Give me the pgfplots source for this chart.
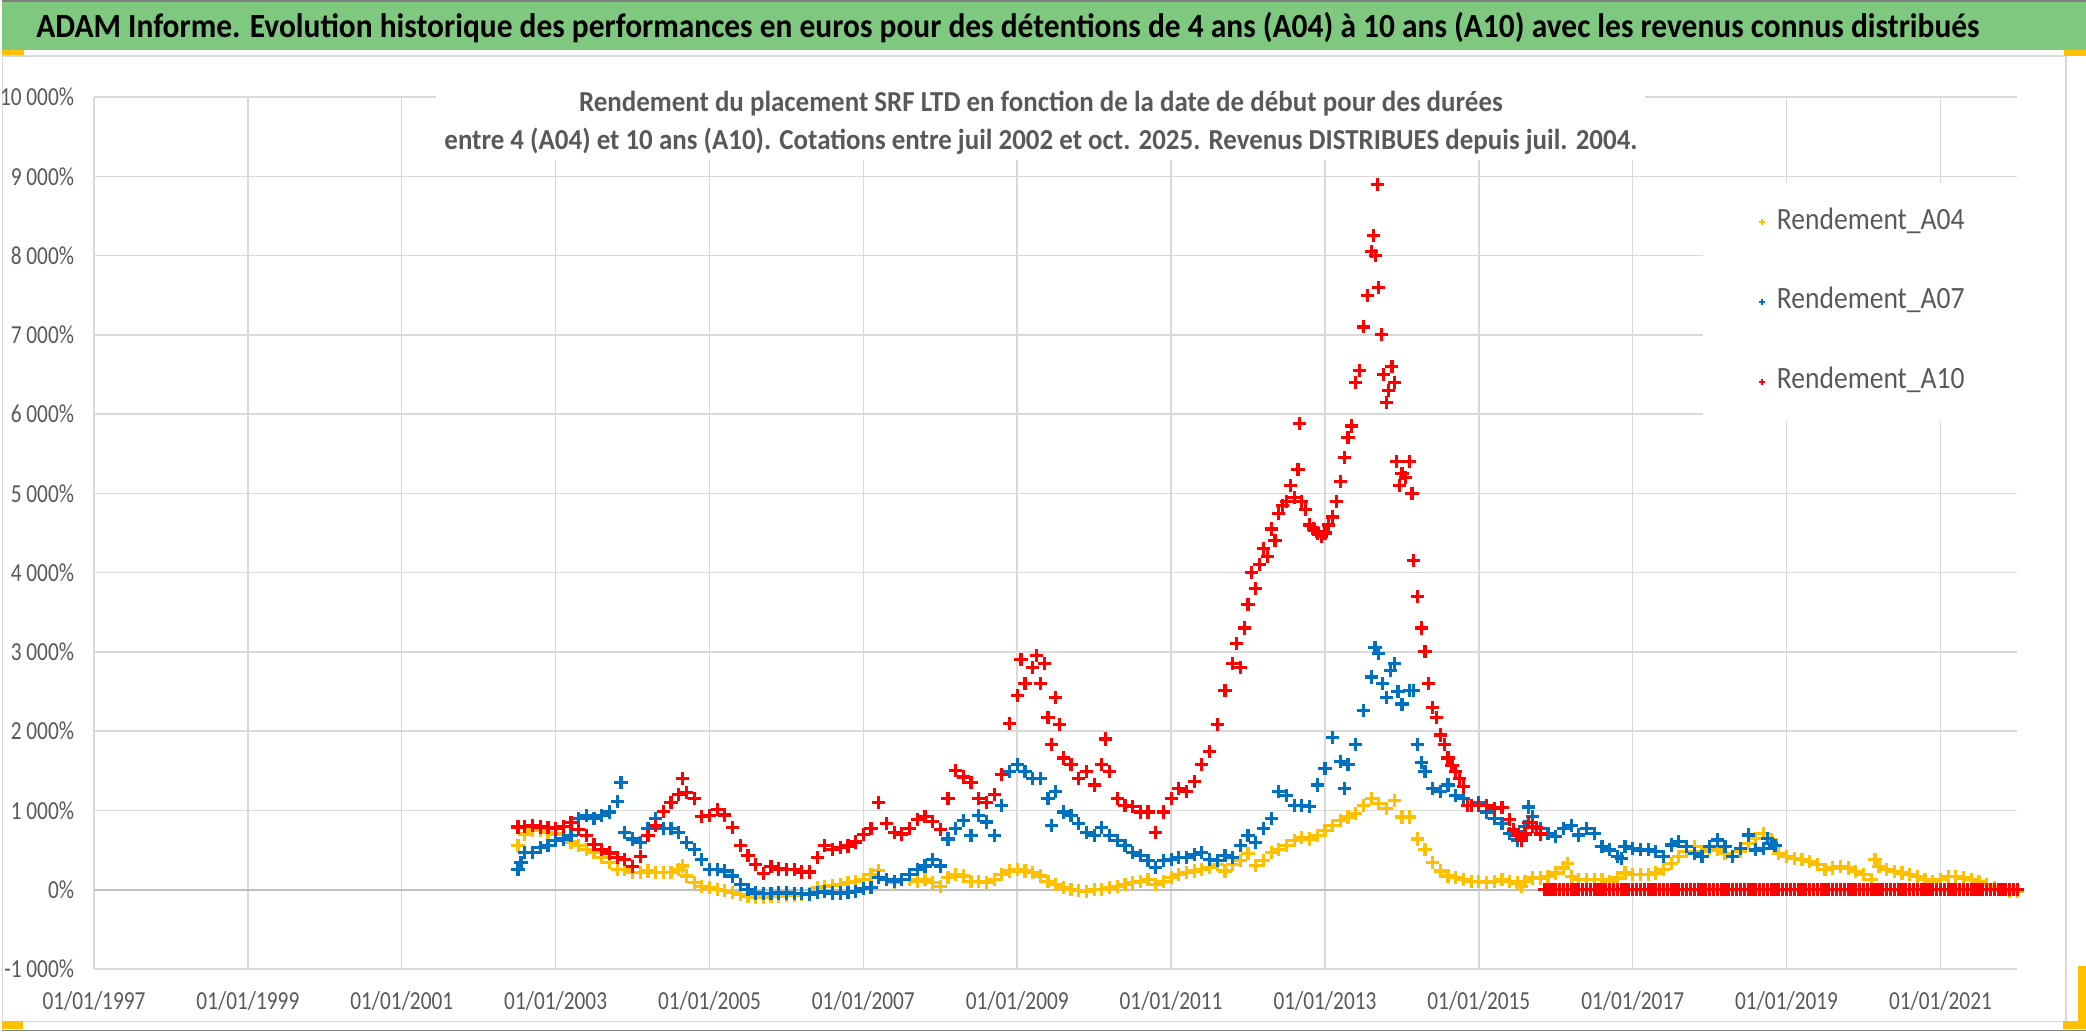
\documentclass[border=0pt]{standalone}
\usepackage{pgfplots}
\pgfplotsset{compat=1.18}
\usepackage{fontspec}
\setmainfont{Carlito}[FakeStretch=0.82]
\newfontfamily\titlefont{Carlito}[FakeStretch=0.925]
\newfontfamily\subfont{Carlito}[FakeStretch=0.93]
\newfontfamily\legfont{Carlito}[FakeStretch=0.89]
\definecolor{titlegreen}{RGB}{127,200,127}
\definecolor{textgray}{RGB}{89,89,89}
\definecolor{gridgray}{RGB}{217,217,217}
\definecolor{zerogray}{RGB}{191,191,191}
\definecolor{cA04}{RGB}{255,192,0}
\definecolor{cA07}{RGB}{0,112,192}
\definecolor{cA10}{RGB}{255,0,0}
\definecolor{handle}{RGB}{255,192,0}
\begin{document}
\begin{tikzpicture}
\begin{scope}[x=1pt,y=1pt]
\useasboundingbox (0,0) rectangle (1043,516);
\fill[white] (0,0) rectangle (1043,516);
% chart area frame
\draw[gridgray,line width=0.6pt] (0.5,5) rectangle (1033,488);
\draw[gray,line width=0.8pt] (0,515.6) -- (1043,515.6);
\draw[gray,line width=0.8pt] (0,0.4) -- (1043,0.4);
% title bar
\fill[titlegreen] (0,491) rectangle (1043,515.2);
\node[anchor=base,font=\titlefont\bfseries\fontsize{17}{20}\selectfont,text=black,inner sep=0pt] at (503.5,497)
  {ADAM Informe. Evolution historique des performances en euros pour des détentions de 4 ans (A04) à 10 ans (A10) avec les revenus connus distribués};
% selection handles
\fill[handle] (0,488.5) rectangle (11,491);
\fill[handle] (0,1) rectangle (10.5,5);
\fill[handle] (1032,488) rectangle (1043,491);
\fill[handle] (1039,1) rectangle (1043,32.5);
\fill[handle] (1031.5,1) rectangle (1043,5);
\end{scope}
\begin{axis}[
  at={(46.15pt,31.2pt)}, anchor=south west,
  width=962.5pt, height=436.2pt, scale only axis,
  xmin=1997, xmax=2022, ymin=-1000, ymax=10000,
  scaled ticks=false,
  axis line style={draw=none}, tick style={draw=none},
  clip=false,
  xtick={1997,1999,2001,2003,2005,2007,2009,2011,2013,2015,2017,2019,2021},
  xticklabels={01/01/1997,01/01/1999,01/01/2001,01/01/2003,01/01/2005,01/01/2007,01/01/2009,01/01/2011,01/01/2013,01/01/2015,01/01/2017,01/01/2019,01/01/2021},
  ytick={-1000,0,1000,2000,3000,4000,5000,6000,7000,8000,9000,10000},
  yticklabels={-1 000\%,0\%,1 000\%,2 000\%,3 000\%,4 000\%,5 000\%,6 000\%,7 000\%,8 000\%,9 000\%,10 000\%},
  ticklabel style={font=\fontsize{13}{15}\selectfont,text=textgray,inner sep=0pt},
  yticklabel style={anchor=east,xshift=-9.8pt},
  xticklabel style={anchor=north,yshift=-11pt},
  grid=major,
  grid style={color=gridgray,line width=0.75pt},
  extra y ticks={0}, extra y tick labels={},
  extra y tick style={grid style={color=zerogray,line width=1pt}},
  legend style={at={(0.8362,0.9018)}, anchor=north west, draw=none, fill=white,
    inner xsep=28pt, inner ysep=12pt, row sep=25pt,
    font=\legfont\fontsize{15.5}{18}\selectfont, text=textgray,
    nodes={inner sep=0pt, text height=11pt, text depth=4pt},
    /tikz/every odd column/.append style={column sep=5.9pt}},
  legend cell align=left,
  legend image code/.code={\draw[#1,mark size=1.6pt,line width=0.8pt] plot coordinates {(0pt,0pt)};},
  every axis plot/.append style={only marks, mark=+, mark size=3.3pt, line width=1.6pt},
]
\addplot[color=cA04] coordinates {
(2002.51,560) (2002.6,700) (2002.7,750) (2002.8,750) (2002.9,720) (2003.0,700) (2003.1,640) (2003.2,600) (2003.3,553) (2003.4,510)
(2003.5,468) (2003.6,404) (2003.7,340) (2003.8,255) (2003.9,255) (2004.0,213) (2004.1,213) (2004.2,234) (2004.3,213) (2004.4,213)
(2004.5,213) (2004.6,255) (2004.65,298) (2004.7,170) (2004.8,85) (2004.9,43) (2005.0,21) (2005.1,0) (2005.2,-8) (2005.3,-34)
(2005.4,-64) (2005.5,-85) (2005.6,-94) (2005.7,-94) (2005.8,-85) (2005.9,-85) (2006.0,-77) (2006.1,-77) (2006.2,-64) (2006.3,-51)
(2006.4,21) (2006.5,43) (2006.6,51) (2006.7,64) (2006.8,85) (2006.9,106) (2007.0,128) (2007.1,191) (2007.2,240) (2007.3,128)
(2007.4,85) (2007.5,128) (2007.6,128) (2007.7,106) (2007.8,128) (2007.9,85) (2008.0,43) (2008.1,149) (2008.2,191) (2008.3,170)
(2008.4,106) (2008.5,106) (2008.6,85) (2008.7,128) (2008.8,191) (2008.9,234) (2009.0,250) (2009.1,234) (2009.2,213) (2009.3,170)
(2009.4,106) (2009.5,64) (2009.6,21) (2009.7,0) (2009.8,-9) (2009.9,-21) (2010.0,0) (2010.1,0) (2010.2,21) (2010.3,43)
(2010.4,64) (2010.5,85) (2010.6,106) (2010.7,128) (2010.8,64) (2010.9,106) (2011.0,149) (2011.1,191) (2011.2,213) (2011.3,234)
(2011.4,255) (2011.5,277) (2011.6,319) (2011.7,234) (2011.8,319) (2011.9,362) (2012.0,450) (2012.1,300) (2012.2,362) (2012.3,468)
(2012.4,510) (2012.5,553) (2012.6,617) (2012.7,660) (2012.8,638) (2012.9,681) (2013.0,745) (2013.1,809) (2013.2,872) (2013.3,915)
(2013.4,957) (2013.5,1064) (2013.6,1149) (2013.7,1085) (2013.8,1021) (2013.9,1128) (2014.0,915) (2014.1,915) (2014.2,638) (2014.3,510)
(2014.4,340) (2014.5,234) (2014.6,170) (2014.7,149) (2014.8,128) (2014.9,106) (2015.0,106) (2015.1,85) (2015.2,106) (2015.3,125)
(2015.4,104) (2015.5,83) (2015.55,42) (2015.6,104) (2015.7,146) (2015.8,146) (2015.9,167) (2016.0,208) (2016.1,271) (2016.15,333)
(2016.2,167) (2016.3,125) (2016.4,125) (2016.5,125) (2016.6,125) (2016.7,104) (2016.8,146) (2016.9,208) (2017.0,188) (2017.1,188)
(2017.2,188) (2017.3,208) (2017.4,250) (2017.5,333) (2017.6,417) (2017.7,479) (2017.8,542) (2017.9,479) (2018.0,521) (2018.1,500)
(2018.2,458) (2018.3,417) (2018.4,479) (2018.5,583) (2018.6,646) (2018.7,708) (2018.8,625) (2018.9,458) (2019.0,417) (2019.1,396)
(2019.2,375) (2019.3,354) (2019.4,313) (2019.5,250) (2019.6,271) (2019.7,292) (2019.8,271) (2019.9,229) (2020.0,188) (2020.1,125)
(2020.15,380) (2020.2,292) (2020.3,250) (2020.4,229) (2020.5,208) (2020.6,188) (2020.7,167) (2020.8,125) (2020.9,104) (2021.0,125)
(2021.1,167) (2021.2,167) (2021.3,146) (2021.4,125) (2021.5,104) (2021.6,63) (2021.7,21) (2021.8,0) (2021.9,-21) (2022.0,-21)
};
\addlegendentry{Rendement\_A04}
\addplot[color=cA07] coordinates {
(2002.51,255) (2002.55,340) (2002.6,468) (2002.7,468) (2002.8,532) (2002.9,553) (2003.0,617) (2003.1,638) (2003.2,680) (2003.3,894)
(2003.4,936) (2003.5,894) (2003.6,936) (2003.7,979) (2003.8,1106) (2003.85,1350) (2003.9,723) (2004.0,638) (2004.1,596) (2004.2,766)
(2004.3,894) (2004.4,766) (2004.5,766) (2004.6,723) (2004.7,596) (2004.8,510) (2004.9,383) (2005.0,255) (2005.1,255) (2005.2,234)
(2005.3,170) (2005.4,64) (2005.5,0) (2005.6,-43) (2005.7,-51) (2005.8,-51) (2005.9,-43) (2006.0,-43) (2006.1,-51) (2006.2,-51)
(2006.3,-64) (2006.4,-34) (2006.5,-21) (2006.6,-43) (2006.7,-43) (2006.8,-34) (2006.9,-21) (2007.0,9) (2007.1,21) (2007.2,149)
(2007.3,128) (2007.4,106) (2007.5,128) (2007.6,191) (2007.7,255) (2007.8,298) (2007.9,383) (2008.0,298) (2008.1,638) (2008.2,766)
(2008.3,872) (2008.4,680) (2008.5,936) (2008.6,851) (2008.7,680) (2008.8,1064) (2008.9,1489) (2009.0,1574) (2009.1,1489) (2009.2,1404)
(2009.3,1404) (2009.4,1149) (2009.45,809) (2009.5,1234) (2009.6,979) (2009.7,936) (2009.8,830) (2009.9,723) (2010.0,681) (2010.1,787)
(2010.2,681) (2010.3,617) (2010.4,553) (2010.5,468) (2010.6,425) (2010.7,362) (2010.8,277) (2010.9,362) (2011.0,383) (2011.1,404)
(2011.2,404) (2011.3,447) (2011.4,468) (2011.5,383) (2011.6,362) (2011.7,425) (2011.8,404) (2011.9,553) (2012.0,681) (2012.1,596)
(2012.2,766) (2012.3,894) (2012.4,1234) (2012.5,1191) (2012.6,1064) (2012.7,1064) (2012.8,1043) (2012.9,1319) (2013.0,1532) (2013.1,1915)
(2013.2,1617) (2013.25,1277) (2013.3,1574) (2013.4,1830) (2013.5,2255) (2013.6,2681) (2013.65,3050) (2013.7,2979) (2013.75,2600) (2013.8,2426)
(2013.85,2766) (2013.9,2851) (2013.95,2500) (2014.0,2340) (2014.1,2511) (2014.15,2511) (2014.2,1830) (2014.25,1600) (2014.3,1489) (2014.4,1277)
(2014.5,1234) (2014.6,1319) (2014.7,1191) (2014.8,1149) (2014.9,1064) (2015.0,1100) (2015.1,979) (2015.2,894) (2015.3,833) (2015.4,708)
(2015.5,625) (2015.55,667) (2015.6,792) (2015.65,1042) (2015.7,917) (2015.8,771) (2015.9,708) (2016.0,667) (2016.1,771) (2016.2,813)
(2016.3,688) (2016.4,771) (2016.5,708) (2016.6,542) (2016.7,500) (2016.8,417) (2016.85,396) (2016.9,542) (2017.0,521) (2017.1,500)
(2017.2,500) (2017.3,479) (2017.4,417) (2017.5,563) (2017.6,604) (2017.7,542) (2017.8,458) (2017.9,417) (2018.0,542) (2018.1,625)
(2018.2,542) (2018.3,417) (2018.4,521) (2018.5,688) (2018.6,500) (2018.7,521) (2018.75,646) (2018.8,583) (2018.85,560)
};
\addlegendentry{Rendement\_A07}
\addplot[color=cA10] coordinates {
(2002.51,790) (2002.6,800) (2002.7,810) (2002.8,790) (2002.9,780) (2003.0,770) (2003.1,800) (2003.2,850) (2003.3,760) (2003.4,680)
(2003.5,570) (2003.6,510) (2003.7,460) (2003.8,400) (2003.9,380) (2004.0,290) (2004.1,420) (2004.2,680) (2004.3,810) (2004.4,980)
(2004.5,1100) (2004.6,1200) (2004.65,1400) (2004.7,1220) (2004.8,1150) (2004.9,920) (2005.0,930) (2005.1,1010) (2005.2,940) (2005.3,780)
(2005.4,560) (2005.5,425) (2005.6,320) (2005.7,200) (2005.8,290) (2005.9,260) (2006.0,250) (2006.1,250) (2006.2,220) (2006.3,220)
(2006.4,400) (2006.5,560) (2006.6,510) (2006.7,530) (2006.8,550) (2006.9,600) (2007.0,690) (2007.1,770) (2007.2,1100) (2007.3,830)
(2007.4,720) (2007.5,700) (2007.6,770) (2007.7,880) (2007.8,920) (2007.9,860) (2008.0,760) (2008.1,1150) (2008.2,1500) (2008.3,1420)
(2008.4,1350) (2008.5,1150) (2008.6,1100) (2008.7,1200) (2008.8,1450) (2008.9,2100) (2009.0,2450) (2009.05,2900) (2009.1,2600) (2009.2,2800)
(2009.25,2950) (2009.3,2600) (2009.35,2850) (2009.4,2170) (2009.45,1830) (2009.5,2420) (2009.55,2085) (2009.6,1660) (2009.7,1574) (2009.8,1404)
(2009.9,1489) (2010.0,1319) (2010.1,1574) (2010.15,1900) (2010.2,1489) (2010.3,1149) (2010.4,1064) (2010.5,1043) (2010.6,979) (2010.7,979)
(2010.8,723) (2010.9,979) (2011.0,1149) (2011.1,1277) (2011.2,1234) (2011.3,1362) (2011.4,1574) (2011.5,1745) (2011.6,2085) (2011.7,2511)
(2011.8,2850) (2011.85,3100) (2011.9,2800) (2011.95,3300) (2012.0,3600) (2012.05,4000) (2012.1,3800) (2012.15,4100) (2012.2,4300) (2012.25,4200)
(2012.3,4550) (2012.35,4400) (2012.4,4750) (2012.45,4850) (2012.5,4900) (2012.55,5100) (2012.6,4950) (2012.65,5300) (2012.67,5880) (2012.7,4900)
(2012.75,4800) (2012.8,4600) (2012.85,4550) (2012.9,4500) (2012.95,4450) (2013.0,4500) (2013.05,4600) (2013.1,4700) (2013.15,4900) (2013.2,5150)
(2013.25,5450) (2013.3,5700) (2013.35,5850) (2013.4,6400) (2013.45,6550) (2013.5,7100) (2013.55,7500) (2013.6,8050) (2013.63,8250) (2013.66,8000)
(2013.68,8900) (2013.7,7600) (2013.73,7000) (2013.76,6500) (2013.8,6150) (2013.83,6300) (2013.87,6600) (2013.9,6400) (2013.93,5400) (2013.97,5100)
(2014.0,5250) (2014.05,5200) (2014.1,5400) (2014.13,5000) (2014.15,4150) (2014.2,3700) (2014.25,3300) (2014.3,3000) (2014.35,2600) (2014.4,2300)
(2014.45,2170) (2014.5,1950) (2014.55,1830) (2014.6,1660) (2014.65,1570) (2014.7,1490) (2014.75,1400) (2014.8,1300) (2014.85,1064) (2014.9,1060)
(2015.0,1060) (2015.1,1060) (2015.2,1020) (2015.3,1040) (2015.4,880) (2015.45,750) (2015.5,680) (2015.55,625) (2015.6,700) (2015.65,850)
(2015.7,800) (2015.75,780) (2015.8,700)
(2015.85,0) (2015.9,0) (2015.95,0)
(2016.0,0) (2016.05,0) (2016.1,0) (2016.15,0) (2016.2,0) (2016.25,0) (2016.3,0) (2016.35,0) (2016.4,0) (2016.45,0)
(2016.5,0) (2016.55,0) (2016.6,0) (2016.65,0) (2016.7,0) (2016.75,0) (2016.8,0) (2016.85,0) (2016.9,0) (2016.95,0)
(2017.0,0) (2017.05,0) (2017.1,0) (2017.15,0) (2017.2,0) (2017.25,0) (2017.3,0) (2017.35,0) (2017.4,0) (2017.45,0)
(2017.5,0) (2017.55,0) (2017.6,0) (2017.65,0) (2017.7,0) (2017.75,0) (2017.8,0) (2017.85,0) (2017.9,0) (2017.95,0)
(2018.0,0) (2018.05,0) (2018.1,0) (2018.15,0) (2018.2,0) (2018.25,0) (2018.3,0) (2018.35,0) (2018.4,0) (2018.45,0)
(2018.5,0) (2018.55,0) (2018.6,0) (2018.65,0) (2018.7,0) (2018.75,0) (2018.8,0) (2018.85,0) (2018.9,0) (2018.95,0)
(2019.0,0) (2019.05,0) (2019.1,0) (2019.15,0) (2019.2,0) (2019.25,0) (2019.3,0) (2019.35,0) (2019.4,0) (2019.45,0)
(2019.5,0) (2019.55,0) (2019.6,0) (2019.65,0) (2019.7,0) (2019.75,0) (2019.8,0) (2019.85,0) (2019.9,0) (2019.95,0)
(2020.0,0) (2020.05,0) (2020.1,0) (2020.15,0) (2020.2,0) (2020.25,0) (2020.3,0) (2020.35,0) (2020.4,0) (2020.45,0)
(2020.5,0) (2020.55,0) (2020.6,0) (2020.65,0) (2020.7,0) (2020.75,0) (2020.8,0) (2020.85,0) (2020.9,0) (2020.95,0)
(2021.0,0) (2021.05,0) (2021.1,0) (2021.15,0) (2021.2,0) (2021.25,0) (2021.3,0) (2021.35,0) (2021.4,0) (2021.45,0)
(2021.5,0) (2021.55,0) (2021.6,0) (2021.65,0) (2021.7,0) (2021.75,0) (2021.8,0) (2021.85,0) (2021.9,0) (2021.95,0)
(2022.0,0)
};
\addlegendentry{Rendement\_A10}
\end{axis}
% chart subtitle, on a white box over the gridlines
\begin{scope}[x=1pt,y=1pt]
\node[fill=white,align=center,inner xsep=4pt,inner ysep=3pt,text=textgray,
      font=\subfont\bfseries\fontsize{14.5}{19}\selectfont] at (520,454.5)
  {Rendement du placement SRF LTD en fonction de la date de début pour des durées\\
   entre 4 (A04) et 10 ans (A10). Cotations entre juil 2002 et oct. 2025. Revenus DISTRIBUES depuis juil. 2004.};
\end{scope}
\end{tikzpicture}
\end{document}
